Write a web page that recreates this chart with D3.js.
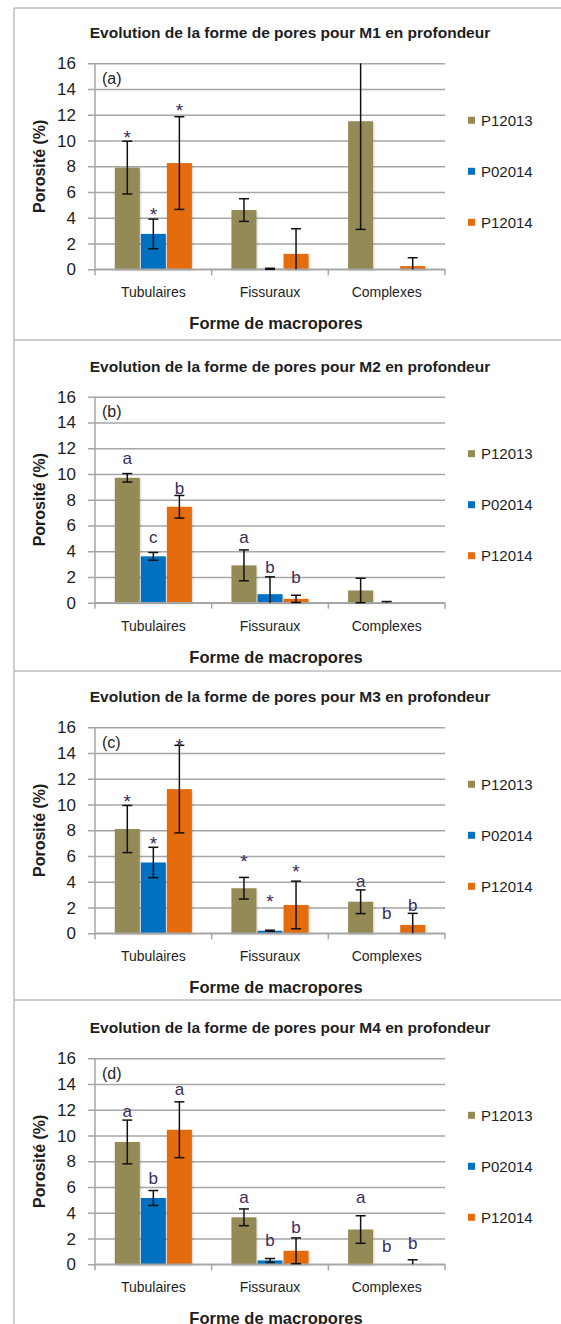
<!DOCTYPE html>
<html><head><meta charset="utf-8">
<script src="https://cdn.jsdelivr.net/npm/d3@7"></script>
<style>
body{margin:0;background:#fff}
svg{display:block}
text{font-family:"Liberation Sans",Arial,sans-serif}
</style>
</head><body>
<svg id="chart" width="561" height="1324"></svg>
<script>
// ---------- DATA ----------
const categories = ["Tubulaires", "Fissuraux", "Complexes"];
const series = ["P12013", "P02014", "P12014"];
const yTicks = [0, 2, 4, 6, 8, 10, 12, 14, 16];
const panelTitles = [
  "Evolution de la forme de pores pour M1 en profondeur",
  "Evolution de la forme de pores pour M2 en profondeur",
  "Evolution de la forme de pores pour M3 en profondeur",
  "Evolution de la forme de pores pour M4 en profondeur"
];
const panelTags = ["(a)", "(b)", "(c)", "(d)"];
const xAxisTitle = "Forme de macropores";
const yAxisTitle = "Porosité (%)";

// values[category][series], errors[category][series]
const m1Values = [[7.9, 2.75, 8.25], [4.6, 0.04, 1.2], [11.5, 0, 0.25]];
const m1Errors = [[2.05, 1.15, 3.6], [0.88, 0.04, 1.95], [8.4, 0, 0.65]];
const m1Labels = [
  ["Tubulaires", "P12013", "*", 10.6], ["Tubulaires", "P02014", "*", 4.6], ["Tubulaires", "P12014", "*", 12.7]
];

const m2Values = [[9.7, 3.6, 7.45], [2.9, 0.66, 0.3], [0.95, 0.04, 0]];
const m2Errors = [[0.33, 0.3, 0.88], [1.2, 1.35, 0.28], [0.95, 0.05, 0]];
const m2Labels = [
  ["Tubulaires", "P12013", "a", 11.2], ["Tubulaires", "P02014", "c", 5.0], ["Tubulaires", "P12014", "b", 8.9],
  ["Fissuraux", "P12013", "a", 5.0], ["Fissuraux", "P02014", "b", 2.8], ["Fissuraux", "P12014", "b", 2.0]
];

const m3Values = [[8.1, 5.5, 11.2], [3.5, 0.2, 2.2], [2.45, 0, 0.65]];
const m3Errors = [[1.83, 1.18, 3.4], [0.84, 0.04, 1.85], [0.92, 0, 0.9]];
const m3Labels = [
  ["Tubulaires", "P12013", "*", 10.6], ["Tubulaires", "P02014", "*", 7.35], ["Tubulaires", "P12014", "*", 14.9],
  ["Fissuraux", "P12013", "*", 5.95], ["Fissuraux", "P02014", "*", 2.8], ["Fissuraux", "P12014", "*", 5.15],
  ["Complexes", "P12013", "a", 4.0], ["Complexes", "P02014", "b", 1.58], ["Complexes", "P12014", "b", 2.2]
];

const m4Values = [[9.5, 5.15, 10.45], [3.65, 0.3, 1.05], [2.7, 0, 0.02]];
const m4Errors = [[1.7, 0.58, 2.17], [0.65, 0.15, 1.0], [1.07, 0, 0.33]];
const m4Labels = [
  ["Tubulaires", "P12013", "a", 11.86], ["Tubulaires", "P02014", "b", 6.68], ["Tubulaires", "P12014", "a", 13.54],
  ["Fissuraux", "P12013", "a", 5.13], ["Fissuraux", "P02014", "b", 1.89], ["Fissuraux", "P12014", "b", 2.93],
  ["Complexes", "P12013", "a", 5.13], ["Complexes", "P02014", "b", 1.45], ["Complexes", "P12014", "b", 1.63]
];

const panelValues = [m1Values, m2Values, m3Values, m4Values];
const panelErrors = [m1Errors, m2Errors, m3Errors, m4Errors];
const panelLabels = [m1Labels, m2Labels, m3Labels, m4Labels];

// ---------- STYLE / LAYOUT ----------
const colors = {"P12013": "#948A54", "P02014": "#0070C0", "P12014": "#E46C0A"};
const gridColor = "#a6a6a6";
const annColor = "#3b2c5e";
const textColor = "#1e1e1e";
const plotLeft = 95, plotRight = 445, plotH = 206;
const panelTops = [63.3, 396.7, 727.3, 1058.3];
const borderTops = [8, 340, 671, 1000];
const borderLeft = 14;

const svg = d3.select("#chart");

const defs = svg.append("defs");
const f = defs.append("filter").attr("id", "shadow").attr("x", "-20%").attr("y", "-20%").attr("width", "140%").attr("height", "140%");
f.append("feDropShadow").attr("dx", 1).attr("dy", 1).attr("stdDeviation", 1.2).attr("flood-color", "#000").attr("flood-opacity", 0.18);

// panel borders
svg.append("line").attr("x1", borderLeft).attr("x2", borderLeft).attr("y1", borderTops[0]).attr("y2", 1324)
  .attr("stroke", "#bdbdbd").attr("stroke-width", 1.5);
borderTops.forEach(t => {
  svg.append("line").attr("x1", borderLeft).attr("x2", 561).attr("y1", t).attr("y2", t)
    .attr("stroke", "#bdbdbd").attr("stroke-width", 1.5);
});

const x0 = d3.scaleBand().domain(categories).range([plotLeft, plotRight]);
const x1 = d3.scaleBand().domain(series).range([0, x0.bandwidth()]).paddingInner(0.04).paddingOuter(0.76);

panelTops.forEach((top, p) => {
  const g = svg.append("g");
  const y = d3.scaleLinear().domain([0, 16]).range([top + plotH, top]);

  // title
  g.append("text").attr("x", 290).attr("y", top - 25).attr("text-anchor", "middle")
    .attr("font-size", 15.5).attr("font-weight", "bold").attr("fill", textColor).text(panelTitles[p]);

  // gridlines + y tick labels
  const ya = d3.axisLeft(y).tickValues(yTicks).tickSize(-(plotRight - plotLeft + 7)).tickPadding(12).tickFormat(d3.format("d"));
  const yg = g.append("g").attr("transform", `translate(${plotLeft - 7},0)`).call(ya);
  yg.select(".domain").remove();
  yg.selectAll(".tick line").attr("stroke", gridColor).attr("stroke-width", 1.5);
  yg.selectAll(".tick text").attr("font-size", 17).attr("fill", textColor)
    .attr("font-family", '"Liberation Sans", Arial, sans-serif');

  // y axis line
  g.append("line").attr("x1", plotLeft).attr("x2", plotLeft).attr("y1", y(16)).attr("y2", y(0))
    .attr("stroke", gridColor).attr("stroke-width", 1.5);

  // tag
  g.append("text").attr("x", 102).attr("y", y(16) + 20.5).attr("font-size", 16).attr("fill", textColor).text(panelTags[p]);

  // bars
  const vals = panelValues[p], errs = panelErrors[p];
  const bars = [];
  categories.forEach((c, i) => series.forEach((s, j) => bars.push({c, s, v: vals[i][j], e: errs[i][j]})));

  g.append("g").attr("filter", "url(#shadow)").selectAll("rect").data(bars.filter(d => d.v > 0)).join("rect")
    .attr("x", d => x0(d.c) + x1(d.s))
    .attr("width", x1.bandwidth())
    .attr("y", d => y(d.v))
    .attr("height", d => y(0) - y(d.v))
    .attr("fill", d => colors[d.s]);

  // x axis line + boundary ticks
  g.append("line").attr("x1", plotLeft).attr("x2", plotRight).attr("y1", y(0)).attr("y2", y(0))
    .attr("stroke", gridColor).attr("stroke-width", 1.5);
  const bounds = categories.map(c => x0(c)).concat([plotRight]);
  g.selectAll(".bt").data(bounds).join("line")
    .attr("x1", d => d).attr("x2", d => d).attr("y1", y(0)).attr("y2", y(0) + 6)
    .attr("stroke", gridColor).attr("stroke-width", 1.5);

  // category labels
  const xa = d3.axisBottom(x0).tickSize(0).tickPadding(0);
  const xg = g.append("g").attr("transform", `translate(0,${y(0)})`).call(xa);
  xg.select(".domain").remove();
  xg.selectAll(".tick text").attr("font-size", 14).attr("fill", textColor).attr("dy", 0).attr("y", 28)
    .attr("font-family", '"Liberation Sans", Arial, sans-serif');

  // error bars
  const eb = bars.filter(d => d.e > 0);
  const cx = d => x0(d.c) + x1(d.s) + x1.bandwidth() / 2;
  const clip = v => Math.max(0, Math.min(16, v));
  const eg = g.append("g").attr("stroke", "#111").attr("stroke-width", 1.5);
  eb.forEach(d => {
    const hi = d.v + d.e, lo = d.v - d.e;
    eg.append("line").attr("x1", cx(d)).attr("x2", cx(d)).attr("y1", y(clip(hi))).attr("y2", y(clip(lo)));
    if (hi <= 16) eg.append("line").attr("x1", cx(d) - 5).attr("x2", cx(d) + 5).attr("y1", y(hi)).attr("y2", y(hi));
    if (lo >= 0) eg.append("line").attr("x1", cx(d) - 5).attr("x2", cx(d) + 5).attr("y1", y(lo)).attr("y2", y(lo));
  });

  // annotations
  g.selectAll(".ann").data(panelLabels[p]).join("text")
    .attr("x", d => x0(d[0]) + x1(d[1]) + x1.bandwidth() / 2)
    .attr("y", d => y(d[3]) + (d[2] === "*" ? 11 : (d[2] === "b" ? 6 : 5)))
    .attr("text-anchor", "middle")
    .attr("font-size", d => d[2] === "*" ? 19 : 17)
    .attr("fill", annColor)
    .text(d => d[2]);

  // legend
  const leg = g.append("g");
  series.forEach((s, j) => {
    const cy = top + 57 + j * 51;
    leg.append("rect").attr("x", 468).attr("y", cy - 3.5).attr("width", 7).attr("height", 7).attr("fill", colors[s]);
    leg.append("text").attr("x", 481).attr("y", cy + 5.5).attr("font-size", 15).attr("fill", textColor).text(s);
  });

  // axis titles
  g.append("text").attr("transform", `translate(45,${top + 103}) rotate(-90)`).attr("text-anchor", "middle")
    .attr("font-size", 16).attr("font-weight", "bold").attr("fill", textColor).text(yAxisTitle);
  g.append("text").attr("x", 276).attr("y", y(0) + 60).attr("text-anchor", "middle")
    .attr("font-size", 16.5).attr("font-weight", "bold").attr("fill", textColor).text(xAxisTitle);
});
</script>
</body></html>
